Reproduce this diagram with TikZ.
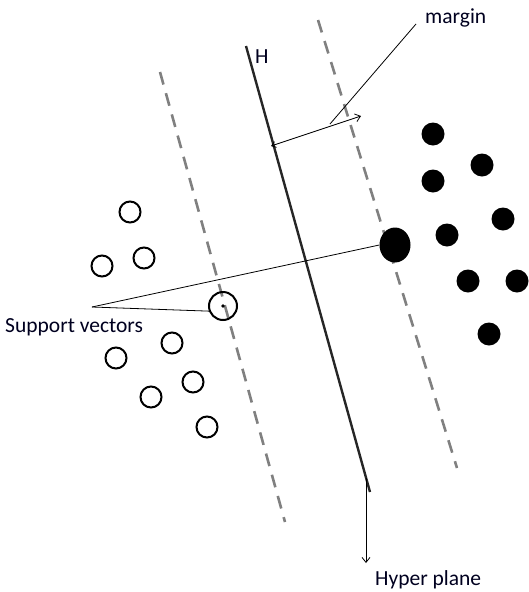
\documentclass[tikz,border=0pt]{standalone}
\usepackage{fontspec}
\setmainfont{Carlito}
\usetikzlibrary{arrows.meta,shapes.geometric}
\begin{document}
\begin{tikzpicture}[x=1pt,y=-1pt,
  lbl/.style={font=\fontsize{21.5}{25}\selectfont, text=black!88!blue, inner sep=0pt},
  negdot/.style={circle, draw=black, line width=2pt, minimum size=21pt, inner sep=0pt},
  posdot/.style={circle, fill=black, minimum size=23pt, inner sep=0pt},
  margline/.style={draw=black!50, line width=2.6pt, dash pattern=on 13pt off 9pt},
  hyper/.style={draw=black!85, line width=2.4pt},
  leader/.style={draw=black, line width=0.8pt},
  tip/.style={-{Straight Barb[length=5pt,width=8pt]}}
]
\useasboundingbox (0,0) rectangle (528,592);

% hyperplane and the two margin boundaries
\coordinate (h1) at (246,46);
\coordinate (h2) at (370,492);
\draw[hyper] (h1) -- (h2);
\node[lbl, anchor=west] (hlbl) at (255,57) {H};
\coordinate (l1) at (160,72);
\coordinate (l2) at (285,522);
\draw[margline] (l1) -- (l2);
\coordinate (r1) at (318,20);
\coordinate (r2) at (457,468);
\draw[margline] (r1) -- (r2);

% class -1 samples
\node[negdot] (n1) at (130,212) {};
\node[negdot] (n2) at (102,266) {};
\node[negdot] (n3) at (144,258) {};
\node[negdot] (n4) at (116,358) {};
\node[negdot] (n5) at (172,343) {};
\node[negdot] (n6) at (151,397) {};
\node[negdot] (n7) at (193,382) {};
\node[negdot] (n8) at (207,427) {};
\node[negdot, minimum size=28pt] (sv1) at (223,306) {};
\fill (sv1.center) circle (1.8pt);

% class +1 samples
\node[posdot] (p1) at (433,134) {};
\node[posdot] (p2) at (482,165) {};
\node[posdot] (p3) at (433,181) {};
\node[posdot] (p4) at (503,219) {};
\node[posdot] (p5) at (447,235) {};
\node[posdot] (p6) at (468,281) {};
\node[posdot] (p7) at (517,281) {};
\node[posdot] (p8) at (489,334) {};
\node[posdot, ellipse, minimum width=31pt, minimum height=35pt] (sv2) at (395,245) {};

% support vector callout
\node[lbl, anchor=west] (svlbl) at (5,327) {Support vectors};
\coordinate (svpt) at (92,307);
\draw[leader] (svpt) -- (sv2.west);
\draw[leader] (svpt) -- (sv1.200);

% margin width arrow and its callout
\coordinate (mA) at (271,146);
\coordinate (mB) at (361,116);
\draw[leader, {Straight Barb[length=4pt,width=6pt]}-{Straight Barb[length=5pt,width=8pt]}] (mA) -- (mB);
\coordinate (mC) at (330,124);
\coordinate (mD) at (416,24);
\draw[leader] (mC) -- (mD);
\node[lbl, anchor=west] (mlbl) at (425,18) {margin};

% hyperplane callout
\coordinate (hp1) at (366,478);
\node[lbl, anchor=west] (hplbl) at (375,580) {Hyper plane};
\coordinate (hp2) at (366,563);
\draw[leader, tip] (hp1) -- (hp2);
\end{tikzpicture}
\end{document}
